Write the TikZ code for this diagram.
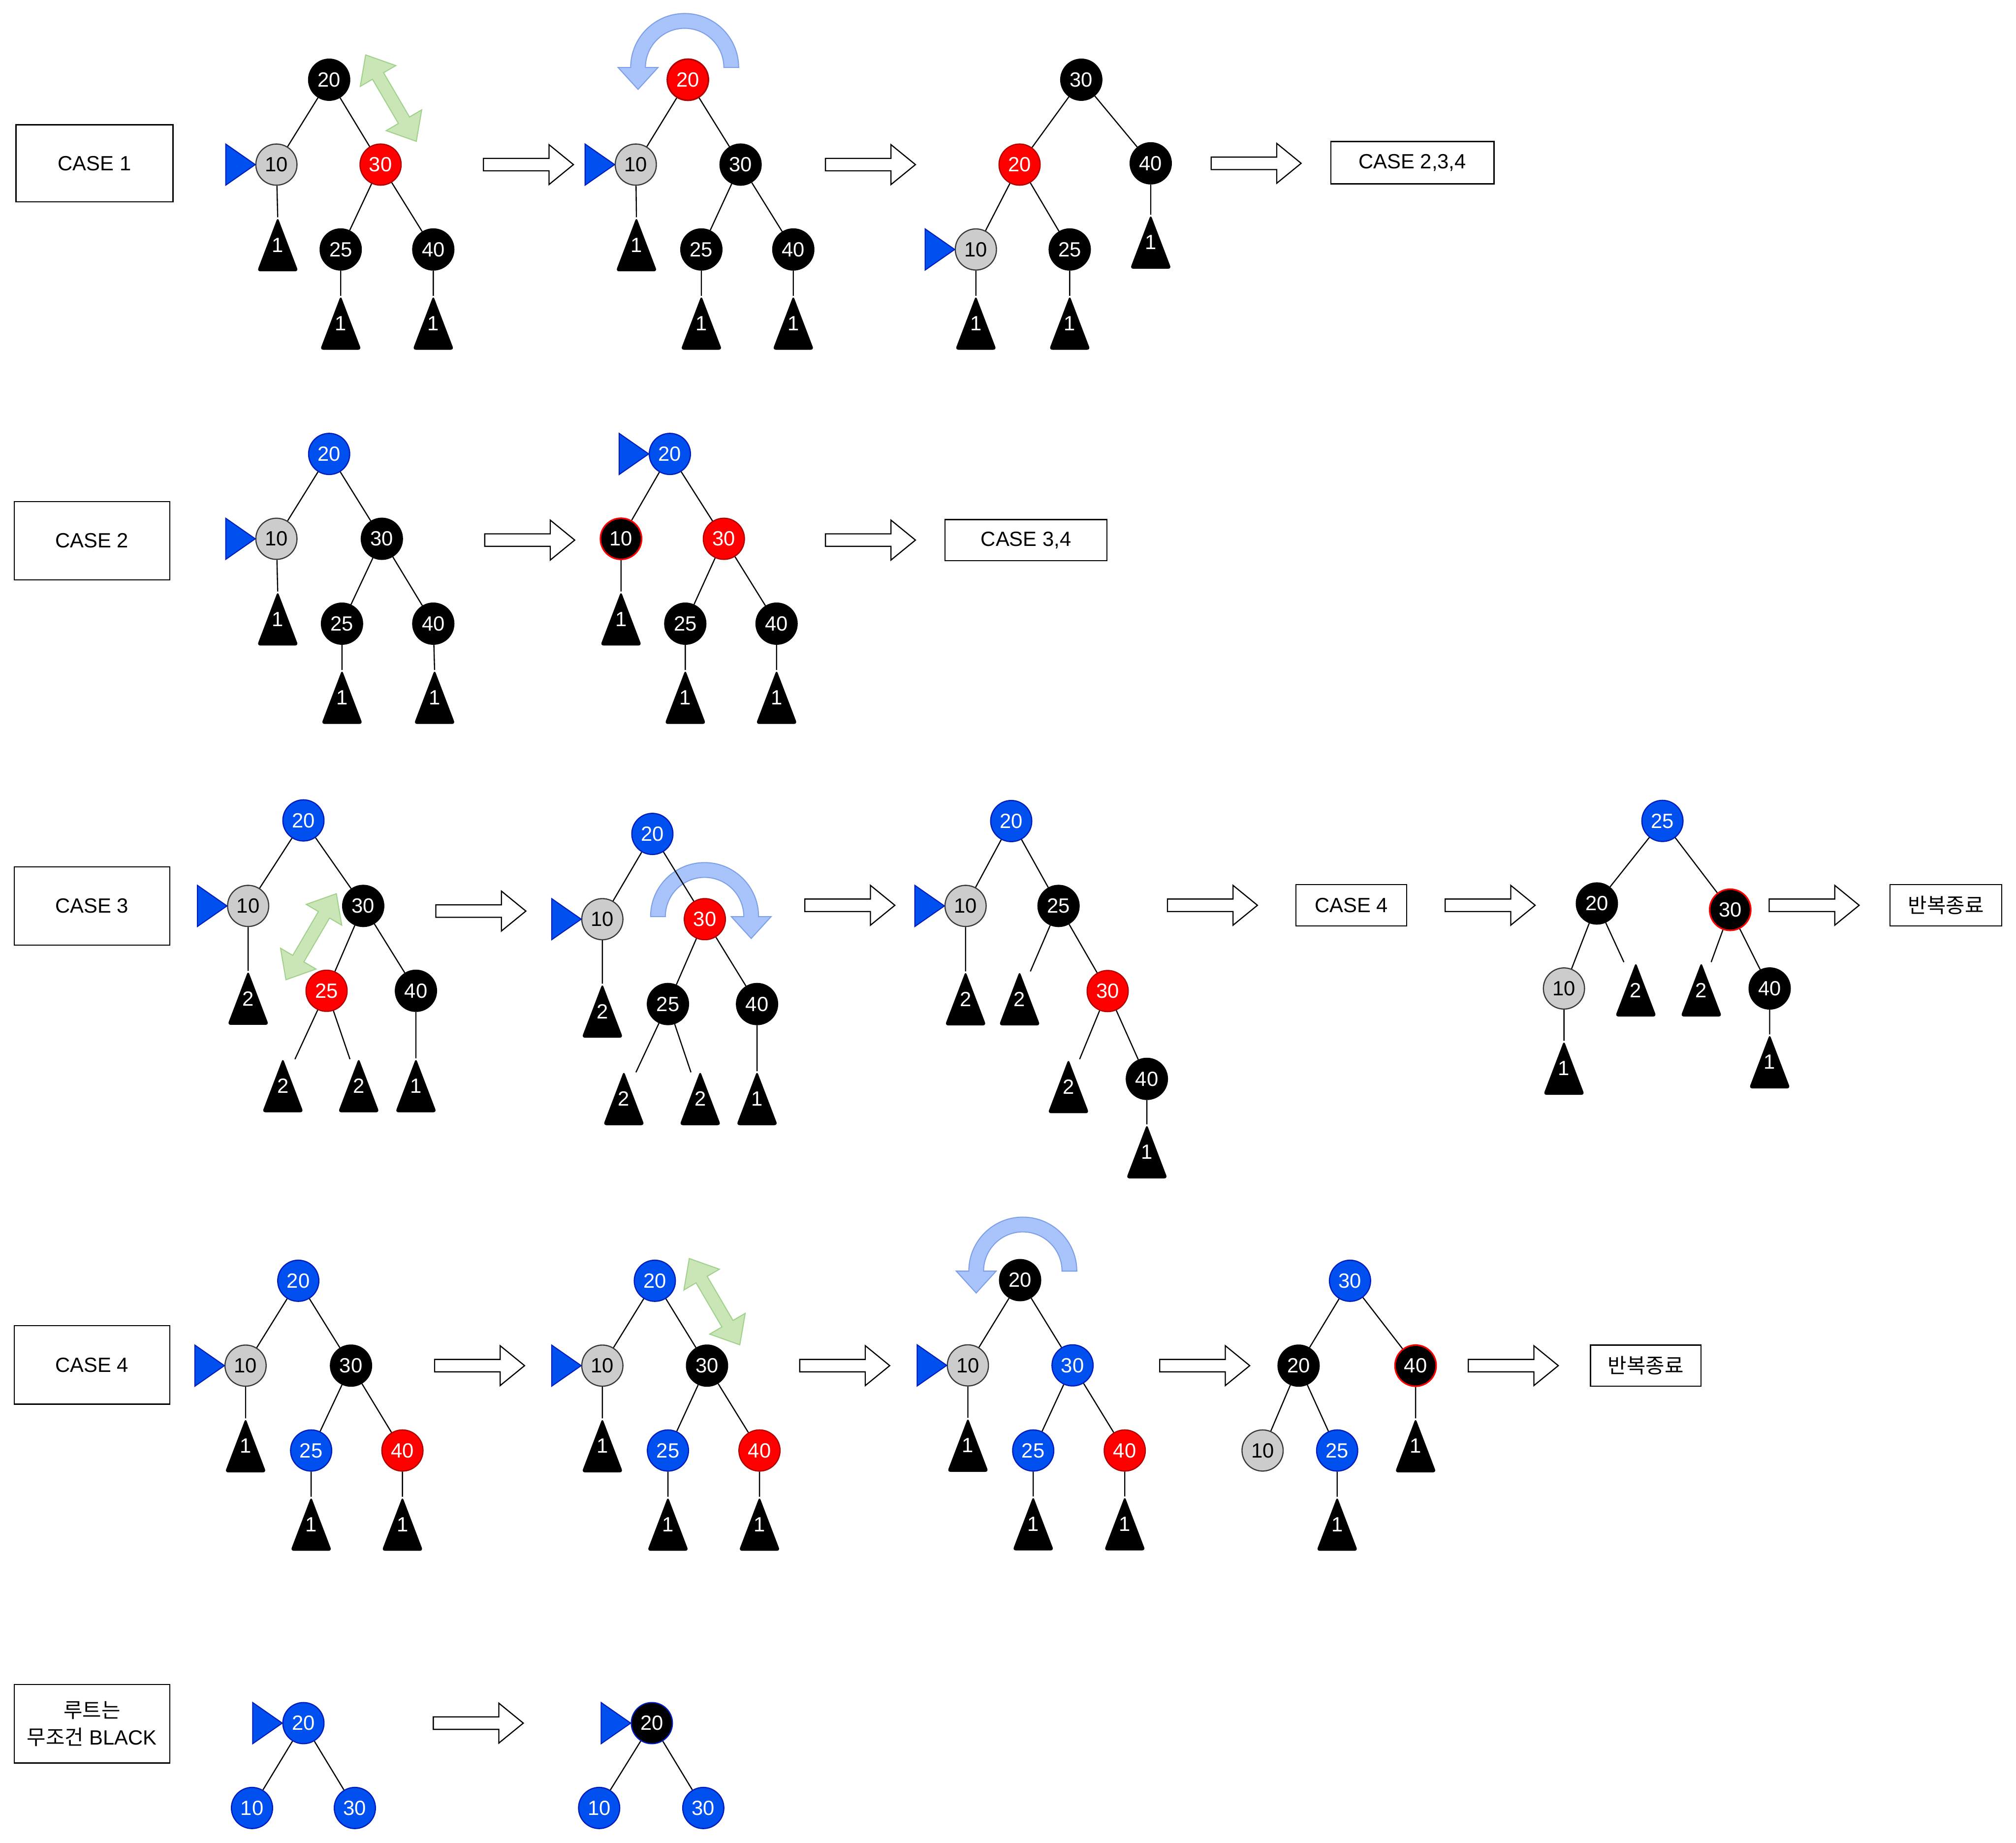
\documentclass[tikz,border=0pt]{standalone}
\usepackage{fontspec}
\setmainfont{Liberation Sans}
\newfontfamily\kr{Noto Sans CJK KR}
\usetikzlibrary{calc}
\definecolor{nblue}{RGB}{0,80,239}
\definecolor{nbluedk}{RGB}{0,29,188}
\definecolor{nred}{RGB}{255,0,0}
\definecolor{nreddk}{RGB}{178,0,0}
\definecolor{ngray}{RGB}{204,204,204}
\definecolor{ngraydk}{RGB}{54,57,61}
\definecolor{gfill}{RGB}{203,230,182}
\definecolor{gdraw}{RGB}{160,210,140}
\definecolor{rfill}{RGB}{169,196,251}
\definecolor{rdraw}{RGB}{126,160,232}
\tikzset{
 rb/.style={circle, minimum size=32pt, inner sep=0pt, font=\fontsize{16}{16}\selectfont, line width=0.9pt},
 bk/.style={rb, fill=black, draw=black, text=white},
 rd/.style={rb, fill=nred, draw=nreddk, text=white},
 bl/.style={rb, fill=nblue, draw=nbluedk, text=white},
 gy/.style={rb, fill=ngray, draw=ngraydk, text=black},
 bkr/.style={rb, fill=black, draw=nred, text=white, line width=1.2pt},
 bkb/.style={rb, fill=black, draw=nbluedk, text=white},
 edge/.style={line width=0.9pt},
 tri/.style={fill=black, rounded corners=2.5pt},
 trilab/.style={text=white, inner sep=0pt, font=\fontsize{16}{16}\selectfont},
 ptr/.style={fill=nblue, draw=nbluedk, line width=0.8pt},
 hollow/.style={draw=black, fill=white, line width=0.9pt, line join=miter},
 casebox/.style={draw, line width=0.9pt, inner sep=0pt, font=\fontsize{16}{21}\selectfont, align=center},
 grn/.style={fill=gfill, draw=gdraw, line width=0.8pt},
 rot/.style={fill=rfill, draw=rdraw, line width=0.8pt},
}
\newcommand{\subt}[4]{\coordinate (#1) at (#2,#3);
 \fill[tri] (#2,#3) -- (#2+16,#3+42) -- (#2-16,#3+42) -- cycle;
 \node[trilab] (#1t) at (#2,#3+21.5) {#4};}
\newcommand{\pointer}[1]{\path[ptr] (#1.west) -- ++(-23,-16) -- ++(0,32) -- cycle;}
\newcommand{\harrow}[2]{\path[hollow] (#1,#2-4.85) -- (#1+51,#2-4.85) -- (#1+51,#2-15.5) -- (#1+70,#2) -- (#1+51,#2+15.5) -- (#1+51,#2+4.85) -- (#1,#2+4.85) -- cycle;}
\newcommand{\dbl}[4]{\coordinate (dA) at (#1,#2); \coordinate (dB) at (#3,#4);
 \coordinate (dHa) at ($(dA)!19pt!(dB)$); \coordinate (dHb) at ($(dB)!19pt!(dA)$);
 \path[grn] (dA) -- ($(dHa)!16pt!90:(dB)$) -- ($(dHa)!5pt!90:(dB)$) -- ($(dHb)!5pt!-90:(dA)$) -- ($(dHb)!16pt!-90:(dA)$) -- (dB)
  -- ($(dHb)!16pt!90:(dA)$) -- ($(dHb)!5pt!90:(dA)$) -- ($(dHa)!5pt!-90:(dB)$) -- ($(dHa)!16pt!-90:(dB)$) -- cycle;}
\newcommand{\rotL}[2]{\path[rot] (#1+42,#2) arc[start angle=0,end angle=180,radius=42pt] -- (#1-51.75,#2) -- (#1-36.25,#2+17) -- (#1-20.75,#2) -- (#1-30.5,#2) arc[start angle=180,end angle=0,radius=30.5pt] -- cycle;}
\newcommand{\rotR}[2]{\path[rot] (#1-42,#2) arc[start angle=180,end angle=0,radius=42pt] -- (#1+51.75,#2) -- (#1+36.25,#2+17) -- (#1+20.75,#2) -- (#1+30.5,#2) arc[start angle=0,end angle=180,radius=30.5pt] -- cycle;}
\begin{document}
\begin{tikzpicture}[x=1pt,y=-1pt]
\fill[white] (0,0) rectangle (1568,1433);
\useasboundingbox (0,0) rectangle (1568,1433);
% decorations (behind)
\dbl{284.4}{42.7}{323.8}{109.9}
\rotL{532.5}{52.5}
\dbl{261.6}{695}{222.4}{761.9}
\rotR{548}{712.8}
\dbl{536.1}{978.7}{575.4}{1045.8}
\rotL{795.5}{988.5}
% case boxes
\node[casebox, minimum width=122pt, minimum height=60pt] (case1) at (73.5,127) {CASE 1};
\node[casebox, minimum width=121pt, minimum height=61pt] (case2) at (71.5,420.5) {CASE 2};
\node[casebox, minimum width=121pt, minimum height=61pt] (case3) at (71.5,704.5) {CASE 3};
\node[casebox, minimum width=121pt, minimum height=61pt] (case4) at (71.5,1061.5) {CASE 4};
\node[casebox, minimum width=121pt, minimum height=61pt] (case5) at (71.5,1340.5) {{\kr 루트는}\\{\kr 무조건} BLACK};
\node[casebox, minimum width=127pt, minimum height=33pt] (next1) at (1098.5,126.5) {CASE 2,3,4};
\node[casebox, minimum width=126pt, minimum height=32pt] (next2) at (798,420) {CASE 3,4};
\node[casebox, minimum width=86pt, minimum height=32pt] (next3) at (1051,704) {CASE 4};
\node[casebox, minimum width=87pt, minimum height=32pt] (end3) at (1513.5,704) {\kr 반복종료};
\node[casebox, minimum width=86pt, minimum height=32pt] (end4) at (1280,1062) {\kr 반복종료};
% hollow arrows
\harrow{376}{128}\harrow{642}{128}\harrow{942}{127}
\harrow{377}{420}\harrow{642}{420}
\harrow{339}{708.5}\harrow{626}{704}\harrow{908}{704}\harrow{1124}{704}\harrow{1376}{704}
\harrow{338}{1062}\harrow{622}{1062}\harrow{902}{1062}\harrow{1142}{1062}
\harrow{337}{1340}
% ===== Row 1 tree 1
\node[bk] (a20) at (256,62) {20};
\node[gy] (a10) at (215,128) {10};
\node[rd] (a30) at (296,128) {30};
\node[bk] (a25) at (265,194) {25};
\node[bk] (a40) at (337,194) {40};
\subt{a10s}{216}{169}{1}\subt{a25s}{265}{230}{1}\subt{a40s}{337}{230}{1}
\draw[edge] (a20)--(a10) (a20)--(a30) (a30)--(a25) (a30)--(a40) (a10)--(a10s) (a25)--(a25s) (a40)--(a40s);
\pointer{a10}
% ===== Row 1 tree 2
\node[rd, line width=1.2pt] (b20) at (535,62) {20};
\node[gy] (b10) at (494.5,128) {10};
\node[bk] (b30) at (576,128) {30};
\node[bk] (b25) at (545.5,194) {25};
\node[bk] (b40) at (617,194) {40};
\subt{b10s}{495}{169}{1}\subt{b25s}{545.5}{230}{1}\subt{b40s}{617}{230}{1}
\draw[edge] (b20)--(b10) (b20)--(b30) (b30)--(b25) (b30)--(b40) (b10)--(b10s) (b25)--(b25s) (b40)--(b40s);
\pointer{b10}
% ===== Row 1 tree 3
\node[bk] (c30) at (841,62) {30};
\node[rd] (c20) at (793,128) {20};
\node[bk] (c40) at (895,127) {40};
\node[gy] (c10) at (759,194) {10};
\node[bk] (c25) at (832,194) {25};
\subt{c40s}{895}{167}{1}\subt{c10s}{759}{230}{1}\subt{c25s}{832}{230}{1}
\draw[edge] (c30)--(c20) (c30)--(c40) (c20)--(c10) (c20)--(c25) (c40)--(c40s) (c10)--(c10s) (c25)--(c25s);
\pointer{c10}
% ===== Row 2 tree 1
\node[bl] (d20) at (256,353) {20};
\node[gy] (d10) at (215,419) {10};
\node[bk] (d30) at (297,419) {30};
\node[bk] (d25) at (266,485) {25};
\node[bk] (d40) at (337,485) {40};
\subt{d10s}{216}{460}{1}\subt{d25s}{266}{521}{1}\subt{d40s}{338}{521}{1}
\draw[edge] (d20)--(d10) (d20)--(d30) (d30)--(d25) (d30)--(d40) (d10)--(d10s) (d25)--(d25s) (d40)--(d40s);
\pointer{d10}
% ===== Row 2 tree 2
\node[bl] (e20) at (521,353) {20};
\node[bkr] (e10) at (483,419) {10};
\node[rd] (e30) at (563,419) {30};
\node[bk] (e25) at (533,485) {25};
\node[bk] (e40) at (604,485) {40};
\subt{e10s}{483}{460}{1}\subt{e25s}{533}{521}{1}\subt{e40s}{604}{521}{1}
\draw[edge] (e20)--(e10) (e20)--(e30) (e30)--(e25) (e30)--(e40) (e10)--(e10s) (e25)--(e25s) (e40)--(e40s);
\pointer{e20}
% ===== Row 3 tree 1
\node[bl] (f20) at (236,638) {20};
\node[gy] (f10) at (193,704.5) {10};
\node[bk] (f30) at (282.5,704.5) {30};
\node[rd] (f25) at (254,770.5) {25};
\node[bk] (f40) at (323.5,770.5) {40};
\subt{f10s}{193}{755}{2}\subt{f25a}{220}{823}{2}\subt{f25b}{279}{823}{2}\subt{f40s}{323.5}{823}{1}
\coordinate (fL) at (229.4,823.7); \coordinate (fR) at (272.2,823.7);
\draw[edge] (f20)--(f10) (f20)--(f30) (f30)--(f25) (f30)--(f40) (f10)--(f10s) (f25)--(fL) (f25)--(fR) (f40)--(f40s);
\pointer{f10}
% ===== Row 3 tree 2
\node[bl] (g20) at (507.4,648.5) {20};
\node[gy] (g10) at (468.5,714.8) {10};
\node[rd] (g30) at (548.2,714.8) {30};
\node[bk] (g25) at (519.5,780.8) {25};
\node[bk] (g40) at (588.8,780.8) {40};
\subt{g10s}{468.5}{765}{2}\subt{g25a}{485.2}{833}{2}\subt{g25b}{544.6}{833}{2}\subt{g40s}{588.8}{833}{1}
\coordinate (gL) at (494.6,833.9); \coordinate (gR) at (537.4,833.9);
\draw[edge] (g20)--(g10) (g20)--(g30) (g30)--(g25) (g30)--(g40) (g10)--(g10s) (g25)--(gL) (g25)--(gR) (g40)--(g40s);
\pointer{g10}
% ===== Row 3 tree 3
\node[bl] (h20) at (786.5,638.5) {20};
\node[gy] (h10) at (751,704.5) {10};
\node[bk] (h25) at (823.3,704.5) {25};
\node[rd] (h30) at (861.5,770.7) {30};
\node[bk] (h40) at (892,839) {40};
\subt{h10s}{751}{755.4}{2}\subt{h25a}{793}{755.4}{2}\subt{h30a}{831}{823.7}{2}\subt{h40s}{892}{874.4}{1}
\coordinate (hL) at (801.4,755.4); \coordinate (hM) at (839.7,823.7);
\draw[edge] (h20)--(h10) (h20)--(h25) (h25)--(h30) (h30)--(h40) (h10)--(h10s) (h25)--(hL) (h30)--(hM) (h40)--(h40s);
\pointer{h10}
% ===== Row 3 tree 4
\node[bl] (i25) at (1293,638.4) {25};
\node[bk] (i20) at (1242,702.6) {20};
\node[bkr] (i30) at (1345.7,707.5) {30};
\node[gy] (i10) at (1216.4,768.7) {10};
\node[bk] (i40) at (1376.4,768.7) {40};
\subt{i20a}{1272.3}{748.5}{2}\subt{i30a}{1323.2}{748.5}{2}\subt{i10s}{1216.4}{809.4}{1}\subt{i40s}{1376.4}{804.4}{1}
\coordinate (iL) at (1263,748.2); \coordinate (iR) at (1330.9,748.2);
\draw[edge] (i25)--(i20) (i25)--(i30) (i20)--(i10) (i30)--(i40) (i20)--(iL) (i30)--(iR) (i10)--(i10s) (i40)--(i40s);
% ===== Row 4 tree 1
\node[bl] (j20) at (232,996) {20};
\node[gy] (j10) at (191,1062) {10};
\node[bk] (j30) at (273,1062) {30};
\node[bl] (j25) at (242,1128) {25};
\node[rd] (j40) at (313,1128) {40};
\subt{j10s}{191}{1103}{1}\subt{j25s}{242}{1164}{1}\subt{j40s}{313}{1164}{1}
\draw[edge] (j20)--(j10) (j20)--(j30) (j30)--(j25) (j30)--(j40) (j10)--(j10s) (j25)--(j25s) (j40)--(j40s);
\pointer{j10}
% ===== Row 4 tree 2
\node[bl] (k20) at (509.3,996) {20};
\node[gy] (k10) at (468.5,1062) {10};
\node[bk] (k30) at (549.9,1062) {30};
\node[bl] (k25) at (519.5,1128) {25};
\node[rd] (k40) at (590.7,1128) {40};
\subt{k10s}{468.5}{1103}{1}\subt{k25s}{519.5}{1164}{1}\subt{k40s}{590.7}{1164}{1}
\draw[edge] (k20)--(k10) (k20)--(k30) (k30)--(k25) (k30)--(k40) (k10)--(k10s) (k25)--(k25s) (k40)--(k40s);
\pointer{k10}
% ===== Row 4 tree 3
\node[bk] (l20) at (793.4,995.5) {20};
\node[gy] (l10) at (752.8,1061.8) {10};
\node[bl] (l30) at (834.2,1061.8) {30};
\node[bl] (l25) at (803.6,1128) {25};
\node[rd] (l40) at (874.8,1128) {40};
\subt{l10s}{752.8}{1102.6}{1}\subt{l25s}{803.6}{1163.7}{1}\subt{l40s}{874.8}{1163.7}{1}
\draw[edge] (l20)--(l10) (l20)--(l30) (l30)--(l25) (l30)--(l40) (l10)--(l10s) (l25)--(l25s) (l40)--(l40s);
\pointer{l10}
% ===== Row 4 tree 4
\node[bl] (m30) at (1050,996) {30};
\node[bk] (m20) at (1010,1062) {20};
\node[bkr] (m40) at (1101,1062) {40};
\node[gy] (m10) at (982,1128) {10};
\node[bl] (m25) at (1040,1128) {25};
\subt{m40s}{1101}{1103}{1}\subt{m25s}{1040}{1164}{1}
\draw[edge] (m30)--(m20) (m30)--(m40) (m20)--(m10) (m20)--(m25) (m40)--(m40s) (m25)--(m25s);
% ===== Row 5
\node[bl] (n20) at (236,1340) {20};
\node[bl] (n10) at (196,1406) {10};
\node[bl] (n30) at (276,1406) {30};
\draw[edge] (n20)--(n10) (n20)--(n30);
\pointer{n20}
\node[bkb] (o20) at (507,1340) {20};
\node[bl] (o10) at (466,1406) {10};
\node[bl] (o30) at (547,1406) {30};
\draw[edge] (o20)--(o10) (o20)--(o30);
\pointer{o20}
\end{tikzpicture}
\end{document}
